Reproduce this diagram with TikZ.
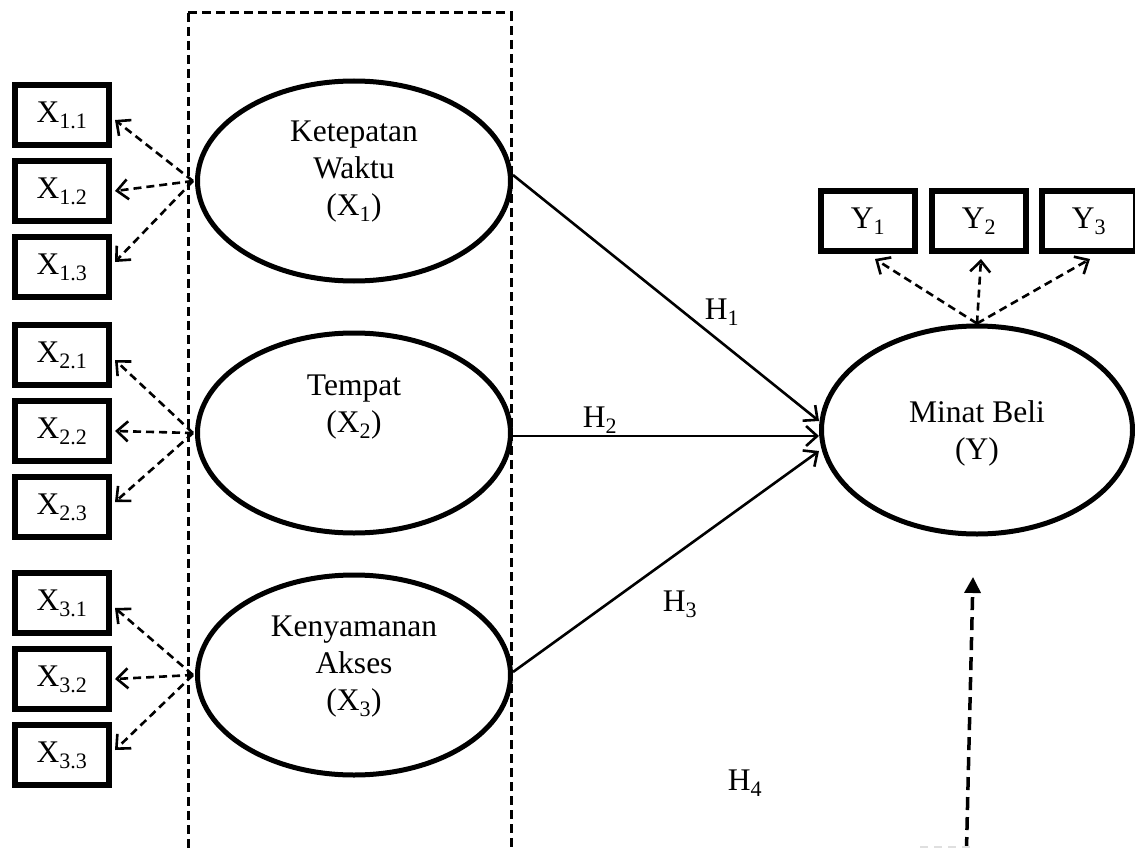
\documentclass[tikz,border=0pt]{standalone}
\usepackage{fontspec}
\setmainfont{Liberation Serif}
\usetikzlibrary{arrows.meta,calc,shapes.geometric}
\begin{document}
\begin{tikzpicture}[x=1pt,y=-1pt,
  txtfont/.style={font=\fontsize{31.5}{37}\selectfont},
  ind/.style={draw,line width=6pt,minimum width=94pt,minimum height=60pt,inner sep=0pt,txtfont},
  lat/.style={draw,ellipse,line width=5pt,fill=white,minimum width=313pt,minimum height=200pt,inner sep=0pt},
  lbl/.style={align=center,txtfont,inner sep=0pt},
  frame/.style={line width=3pt,dash pattern=on 9pt off 5pt},
  meas/.style={line width=2.6pt,dash pattern=on 8pt off 5pt,-{Straight Barb[length=11pt,width=20pt,line width=2.6pt]}},
  path/.style={line width=2.6pt,-{Straight Barb[length=11pt,width=20pt,line width=2.6pt]}},
  mod/.style={line width=3.5pt,dash pattern=on 13pt off 7pt,-{Triangle[length=16pt,width=16pt]}}
]
\useasboundingbox (0,0) rectangle (1135,848);
\clip (0,0) rectangle (1135,848);

% dashed frame around the exogenous constructs
\draw[frame] (188,13) -- (511,13) -- (511,900);
\draw[frame] (188,13) -- (188,900);

% latent constructs
\node[lat] (e1) at (354,181) {};
\node[lat] (e2) at (354,433) {};
\node[lat] (e3) at (354,675) {};
\node[lat,minimum width=311pt,minimum height=208pt] (e4) at (977,430) {};

\node[lbl] (t1) at (354,172) {Ketepatan\\Waktu\\(X\textsubscript{1})};
\node[lbl] (t2) at (354,407) {Tempat\\(X\textsubscript{2})};
\node[lbl] (t3) at (354,667) {Kenyamanan\\Akses\\(X\textsubscript{3})};
\node[lbl] (t4) at (977,433) {Minat Beli\\(Y)};

% indicators
\node[ind] (x11) at (62,115) {X\textsubscript{1.1}};
\node[ind] (x12) at (62,191) {X\textsubscript{1.2}};
\node[ind] (x13) at (62,267) {X\textsubscript{1.3}};
\node[ind] (x21) at (62,355) {X\textsubscript{2.1}};
\node[ind] (x22) at (62,431) {X\textsubscript{2.2}};
\node[ind] (x23) at (62,507) {X\textsubscript{2.3}};
\node[ind] (x31) at (62,603) {X\textsubscript{3.1}};
\node[ind] (x32) at (62,679) {X\textsubscript{3.2}};
\node[ind] (x33) at (62,755) {X\textsubscript{3.3}};
\node[ind] (y1) at (868,221) {Y\textsubscript{1}};
\node[ind] (y2) at (979,221) {Y\textsubscript{2}};
\node[ind] (y3) at (1089,221) {Y\textsubscript{3}};

% measurement arrows
\foreach \e/\a/\b/\c in {e1/x11/x12/x13,e2/x21/x22/x23,e3/x31/x32/x33}{
  \draw[meas] ($(\e.west)+(-2,0)$) -- ($(\a.east)+(3,5)$);
  \draw[meas] ($(\e.west)+(-2,0)$) -- ($(\b.east)+(3,0)$);
  \draw[meas] ($(\e.west)+(-2,0)$) -- ($(\c.east)+(3,-5)$);
}
\draw[meas] (e4.north) -- ($(y1.south)+(7,5)$);
\draw[meas] (e4.north) -- ($(y2.south)+(2,5)$);
\draw[meas] (e4.north) -- ($(y3.south)+(1,5)$);

% structural paths
\draw[path] ($(e1.east)+(0,-6)$) -- ($(e4.west)+(0,-9)$);
\draw[path] ($(e2.east)+(0,3)$) -- ($(e4.west)+(0,6)$);
\draw[path] ($(e3.east)+(0,-3)$) -- ($(e4.west)+(0,21)$);

\node[lbl] (h1) at (722,312) {H\textsubscript{1}};
\node[lbl] (h2) at (600,420) {H\textsubscript{2}};
\node[lbl] (h3) at (680,604) {H\textsubscript{3}};
\node[lbl] (h4) at (745,783) {H\textsubscript{4}};

% moderating path
\coordinate (m0) at (966,870);
\coordinate (m1) at (973,577);
\draw[mod] (m0) -- (m1);
\coordinate (g0) at (920,847);
\coordinate (g1) at (975,847);
\draw[gray!25,line width=2pt,dash pattern=on 8pt off 6pt] (g0) -- (g1);
\end{tikzpicture}
\end{document}
